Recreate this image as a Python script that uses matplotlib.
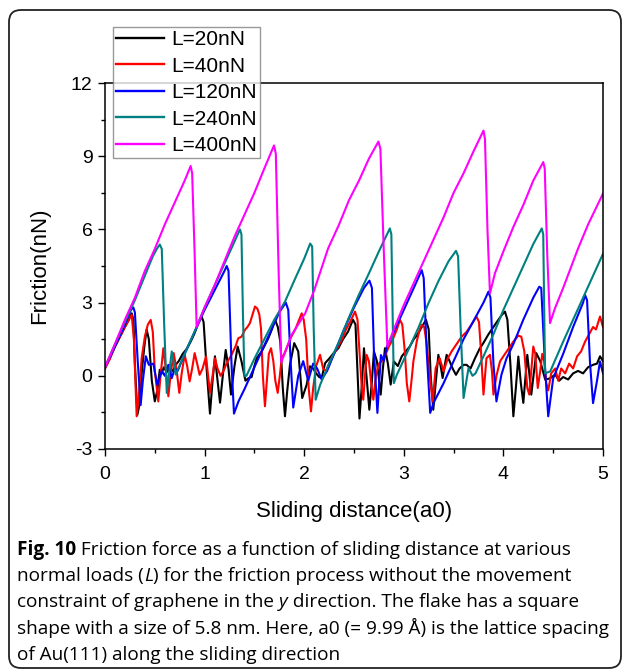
"""Friction force vs sliding distance at several normal loads (Fig. 10)."""

import matplotlib

matplotlib.use("Agg")
import matplotlib.pyplot as plt
from matplotlib.patches import FancyBboxPatch
from matplotlib.ticker import MultipleLocator
from matplotlib.transforms import IdentityTransform

plt.rcParams["font.family"] = ["Liberation Sans", "DejaVu Sans"]
plt.rcParams["axes.unicode_minus"] = False

W, H = 630, 672

# ---- data (x in a0, friction in nN) ----
labels = ["L=20nN", "L=40nN", "L=120nN", "L=240nN", "L=400nN"]
colors = ["#000000", "#ff0000", "#0000ff", "#008080", "#ff00ff"]

x20 = [0.00, 0.05, 0.10, 0.15, 0.20, 0.24, 0.268, 0.285, 0.30, 0.325, 0.345, 0.37, 0.395,
       0.418, 0.44, 0.47, 0.50, 0.525, 0.55, 0.57, 0.59, 0.62, 0.65, 0.68, 0.71, 0.74,
       0.78, 0.82, 0.86, 0.90, 0.94, 0.97, 0.99, 1.02, 1.054, 1.08, 1.104, 1.13, 1.155,
       1.185, 1.212, 1.24, 1.265, 1.30, 1.332, 1.37, 1.41, 1.44, 1.472, 1.50, 1.523,
       1.573, 1.61, 1.64, 1.675, 1.707, 1.735, 1.76, 1.785, 1.807, 1.83, 1.857, 1.90,
       1.94, 1.98, 2.025, 2.058, 2.09, 2.12, 2.15, 2.175, 2.21, 2.25, 2.30, 2.343, 2.39,
       2.44, 2.49, 2.515, 2.535, 2.555, 2.58, 2.60, 2.625, 2.654, 2.68, 2.70, 2.73,
       2.768, 2.79, 2.811, 2.84, 2.868, 2.90, 2.94, 2.98, 3.02, 3.06, 3.10, 3.14, 3.18,
       3.223, 3.25, 3.27, 3.296, 3.32, 3.347, 3.37, 3.39, 3.41, 3.43, 3.46, 3.49, 3.524,
       3.56, 3.60, 3.63, 3.67, 3.715, 3.76, 3.80, 3.85, 3.90, 3.95, 3.985, 4.016, 4.04,
       4.07, 4.10, 4.125, 4.15, 4.175, 4.20, 4.22, 4.24, 4.26, 4.28, 4.305, 4.33, 4.37,
       4.42, 4.47, 4.52, 4.56, 4.60, 4.65, 4.70, 4.75, 4.80, 4.85, 4.90, 4.94, 4.97, 5.00]
f20 = [0.30, 0.75, 1.20, 1.60, 2.00, 2.30, 2.56, 2.30, 0.50, -1.60, -1.20, 0.20, 1.20,
       1.90, 1.50, -0.20, -1.05, -0.60, 0.25, 0.10, 0.35, 0.15, 0.30, 0.20, 0.45, 0.60,
       0.90, 1.10, 1.40, 1.75, 2.20, 2.43, 2.20, 0.30, -1.55, -0.20, 0.80, -0.20, -1.10,
       0.10, 1.06, 0.30, -0.77, 0.40, 1.20, 0.60, -0.20, -0.10, -0.05, 0.40, 0.72,
       1.00, 1.30, 1.54, 1.90, 2.30, 2.00, 1.40, -0.50, -1.66, -0.60, 0.45, 1.34,
       1.00, -0.91, -0.36, 0.39, 0.30, 0.10, -0.05, -0.09, 0.52, 0.70, 0.95, 1.13, 1.50,
       1.81, 2.30, 2.10, 0.20, -1.75, -0.30, 1.13, 0.00, -1.39, -0.20, 1.00, 0.60,
       -0.77, 0.30, 1.13, 0.50, -0.36, 0.59, 0.40, 0.80, 1.00, 1.20, 1.50, 1.70, 2.00,
       2.29, 1.90, 0.00, -1.39, -0.30, 0.86, 0.40, -0.09, 0.40, 0.86, 0.60, 0.30, 0.04,
       0.30, 0.45, 0.45, 0.30, 0.72, 1.10, 1.35, 1.70, 2.00, 2.30, 2.50, 2.63, 2.30,
       0.50, -1.66, -0.50, 0.79, -0.30, -1.11, -0.10, 0.86, 0.10, -0.77, 0.10, 0.93, 0.60,
       -0.16, -0.10, 0.05, -0.20, -0.05, -0.15, 0.10, 0.20, 0.10, 0.35, 0.45, 0.50, 0.80, 0.60]

x40 = [0.00, 0.05, 0.10, 0.15, 0.20, 0.24, 0.268, 0.29, 0.318, 0.34, 0.368, 0.40, 0.43,
       0.459, 0.48, 0.50, 0.535, 0.56, 0.586, 0.61, 0.636, 0.66, 0.69, 0.72, 0.746, 0.77,
       0.80, 0.825, 0.85, 0.875, 0.90, 0.925, 0.95, 0.98, 1.014, 1.035, 1.054, 1.08,
       1.104, 1.13, 1.16, 1.19, 1.22, 1.27, 1.31, 1.338, 1.37, 1.405, 1.43, 1.455, 1.48,
       1.506, 1.53, 1.55, 1.566, 1.585, 1.606, 1.625, 1.645, 1.667, 1.69, 1.71, 1.734,
       1.755, 1.774, 1.80, 1.83, 1.87, 1.91, 1.95, 1.975, 1.995, 2.02, 2.045, 2.068,
       2.09, 2.12, 2.159, 2.19, 2.22, 2.26, 2.30, 2.34, 2.38, 2.42, 2.46, 2.51, 2.535,
       2.555, 2.575, 2.593, 2.61, 2.627, 2.65, 2.67, 2.694, 2.72, 2.75, 2.78, 2.81, 2.85,
       2.89, 2.93, 2.962, 2.985, 3.01, 3.03, 3.055, 3.08, 3.096, 3.13, 3.16, 3.18, 3.205,
       3.23, 3.26, 3.29, 3.32, 3.36, 3.40, 3.44, 3.48, 3.53, 3.58, 3.63, 3.68, 3.73,
       3.755, 3.775, 3.80, 3.83, 3.865, 3.885, 3.90, 3.93, 3.966, 4.00, 4.05, 4.10, 4.15,
       4.18, 4.21, 4.24, 4.26, 4.28, 4.30, 4.32, 4.345, 4.37, 4.39, 4.41, 4.43, 4.45,
       4.48, 4.52, 4.55, 4.58, 4.62, 4.66, 4.70, 4.74, 4.78, 4.82, 4.86, 4.90, 4.93,
       4.97, 5.00]
f40 = [0.30, 0.70, 1.20, 1.60, 2.00, 2.30, 2.50, 1.50, -1.66, -0.80, 0.72, 1.60, 2.10,
       2.29, 1.80, 0.20, -1.05, 0.10, 1.13, 0.30, -0.84, 0.10, 0.93, 0.20, -0.70, 0.10,
       0.86, 0.40, -0.23, 0.30, 0.93, 0.50, 0.04, 0.30, 0.79, 0.00, -0.70, 0.00,
       0.72, 0.30, 0.00, 0.20, 0.50, 0.86, 1.20, 1.54, 1.60, 1.88, 2.00, 2.16, 2.50,
       2.84, 2.75, 2.50, 1.95, 0.00, -1.25, -0.20, 0.90, 1.13, 0.60, -0.20, -0.70,
       0.00, 0.72, 0.90, 1.20, 1.60, 1.90, 2.30, 2.56, 2.30, 1.50, -0.50, -1.46,
       -0.50, 0.40, 0.86, 0.30, 0.20, 0.60, 0.90, 1.20, 1.50, 1.90, 2.20, 2.63, 2.30,
       1.00, -0.30, -0.98, 0.00, 0.86, 0.60, -0.20, -0.98, 0.00, 0.50, 0.60, 0.80, 1.20,
       1.50, 1.90, 2.29, 2.10, 1.00, -0.30, -1.05, -0.10, 0.59, 1.41, 1.90, 2.09, 2.00,
       1.30, 0.00, -1.05, 0.32, 0.72, 0.18, 0.70, 1.00, 1.30, 1.60, 1.80, 2.10, 2.43,
       2.20, 1.00, -0.77, 0.72, 0.86, 0.20, -0.77, 0.00, 0.59, 0.80, 1.10, 1.40, 1.65,
       1.60, 1.00, -0.50, -0.77, 0.20, 1.20, 0.90, -0.50, 0.20, 0.90, 0.60, -0.30, -0.60,
       0.10, 0.30, -0.20, 0.30, 0.10, 0.50, 0.30, 0.80, 1.00, 1.40, 1.70, 2.00, 1.90,
       2.43, 2.00]

x120 = [0.00, 0.10, 0.20, 0.26, 0.285, 0.30, 0.33, 0.358, 0.38, 0.41, 0.44, 0.485, 0.525,
        0.57, 0.60, 0.636, 0.67, 0.70, 0.73, 0.80, 0.90, 1.00, 1.10, 1.20, 1.222, 1.24,
        1.27, 1.295, 1.34, 1.40, 1.45, 1.55, 1.65, 1.75, 1.815, 1.84, 1.865, 1.89, 1.94,
        1.99, 2.04, 2.09, 2.13, 2.175, 2.23, 2.30, 2.40, 2.50, 2.60, 2.655, 2.68, 2.70,
        2.735, 2.77, 2.80, 2.83, 2.90, 3.00, 3.10, 3.18, 3.20, 3.23, 3.265, 3.30, 3.40,
        3.50, 3.60, 3.715, 3.80, 3.85, 3.87, 3.90, 3.93, 3.98, 4.03, 4.10, 4.20, 4.30,
        4.36, 4.38, 4.42, 4.45, 4.50, 4.60, 4.70, 4.80, 4.82, 4.84, 4.87, 4.90, 4.94,
        4.97, 5.00]
f120 = [0.35, 1.20, 2.10, 2.70, 2.80, 2.60, 0.50, -1.20, -0.20, 0.80, 0.45, 0.50, -0.37,
        0.20, 0.00, 0.45, -0.10, 0.30, 0.20, 0.90, 1.80, 2.70, 3.50, 4.30, 4.50, 4.30,
        0.50, -1.55, -1.05, -0.55, -0.10, 0.80, 1.70, 2.60, 3.00, 2.70, 0.50, -1.30, 0.00,
        0.60, -0.20, 0.50, 0.30, -0.15, 0.20, 0.90, 1.90, 2.80, 3.60, 3.90, 3.60, 1.00,
        -1.52, 0.85, 0.60, 1.20, 1.80, 2.70, 3.60, 4.33, 4.00, 1.00, -1.52, -1.10, -0.30,
        0.60, 1.50, 2.36, 3.00, 3.45, 3.20, 0.50, -1.05, 0.04, 0.70, 1.30, 2.30, 3.20,
        3.65, 3.60, 0.20, -1.66, -0.10, 0.90, 2.00, 3.00, 3.31, 3.10, 0.50, -1.12, -0.20,
        0.59, 0.10]

x240 = [0.00, 0.10, 0.20, 0.30, 0.40, 0.48, 0.52, 0.55, 0.57, 0.595, 0.62, 0.67, 0.71,
        0.80, 0.92, 1.00, 1.10, 1.20, 1.30, 1.355, 1.37, 1.385, 1.40, 1.42, 1.50, 1.60,
        1.70, 1.807, 1.90, 2.00, 2.06, 2.08, 2.095, 2.115, 2.16, 2.25, 2.35, 2.45, 2.54,
        2.65, 2.75, 2.86, 2.875, 2.89, 2.90, 2.93, 3.05, 3.15, 3.25, 3.35, 3.45, 3.524,
        3.545, 3.57, 3.60, 3.65, 3.69, 3.72, 3.80, 3.90, 4.00, 4.10, 4.20, 4.30, 4.385,
        4.40, 4.418, 4.47, 4.60, 4.70, 4.80, 4.90, 5.00]
f240 = [0.35, 1.30, 2.20, 3.10, 4.10, 4.90, 5.20, 5.38, 5.20, 2.00, -0.70, 1.00, 0.05,
        0.90, 2.00, 2.80, 3.70, 4.60, 5.50, 6.00, 5.80, 2.50, 0.00, 0.00, 0.70, 1.50,
        2.30, 3.04, 3.90, 4.80, 5.42, 5.30, 2.00, -0.98, -0.37, 0.50, 1.40, 2.40, 3.24,
        4.20, 5.10, 6.04, 5.80, 2.00, -0.30, 0.04, 1.10, 2.00, 3.00, 3.90, 4.70, 5.12,
        4.90, 2.00, -0.91, 0.32, 0.00, 0.10, 0.80, 1.70, 2.70, 3.60, 4.50, 5.40, 6.04,
        5.80, 0.10, 0.18, 1.40, 2.30, 3.20, 4.10, 5.00]

x400 = [0.00, 0.10, 0.20, 0.30, 0.40, 0.50, 0.60, 0.70, 0.80, 0.86, 0.875, 0.90, 0.92,
        1.00, 1.10, 1.20, 1.30, 1.40, 1.50, 1.60, 1.697, 1.715, 1.745, 1.77, 1.874, 2.01,
        2.10, 2.24, 2.35, 2.45, 2.55, 2.65, 2.745, 2.765, 2.80, 2.835, 2.90, 3.00, 3.10,
        3.20, 3.30, 3.40, 3.50, 3.60, 3.70, 3.80, 3.815, 3.84, 3.865, 3.915, 4.00, 4.10,
        4.20, 4.30, 4.40, 4.415, 4.44, 4.468, 4.518, 4.60, 4.75, 4.85, 5.00]
f400 = [0.35, 1.30, 2.30, 3.20, 4.30, 5.20, 6.20, 7.10, 8.00, 8.60, 8.30, 5.00, 2.00,
        2.80, 3.70, 4.70, 5.70, 6.60, 7.50, 8.50, 9.44, 9.10, 4.00, 0.55, 1.68, 2.56,
        3.50, 5.22, 6.20, 7.20, 8.00, 8.90, 9.60, 9.30, 5.00, 1.20, 1.90, 2.90, 3.80,
        4.70, 5.60, 6.50, 7.50, 8.30, 9.20, 10.05, 9.70, 6.00, 3.38, 4.20, 5.10, 6.10,
        7.00, 8.00, 8.76, 8.50, 5.00, 2.16, 2.77, 3.60, 5.22, 6.20, 7.47]

series_x = [x20, x40, x120, x240, x400]
series_f = [f20, f40, f120, f240, f400]

# ---- figure ----
fig = plt.figure(figsize=(W / 100, H / 100), dpi=100)

# rounded frame around the whole panel
frame = FancyBboxPatch((9, H - 668), 612, 658,
                       boxstyle="round,pad=0,rounding_size=12",
                       transform=IdentityTransform(), fill=False,
                       ec="#222222", lw=1.3)
fig.add_artist(frame)

ax = fig.add_axes([105 / W, 1 - 449 / H, 498 / W, 366 / H])
for xs, fs, c, lab in zip(series_x, series_f, colors, labels):
    ax.plot(xs, fs, color=c, lw=1.5, label=lab, solid_joinstyle="round")

ax.set_xlim(0, 5)
ax.set_ylim(-3, 12)
ax.xaxis.set_major_locator(MultipleLocator(1))
ax.xaxis.set_minor_locator(MultipleLocator(0.5))
ax.yaxis.set_major_locator(MultipleLocator(3))
ax.yaxis.set_minor_locator(MultipleLocator(1.5))
ax.tick_params(which="both", direction="out", top=False, right=False,
               labelsize=14, width=1)
ax.tick_params(which="major", length=5, pad=4)
ax.tick_params(axis="x", which="major", pad=7)
ax.tick_params(which="minor", length=3)
for sp in ax.spines.values():
    sp.set_linewidth(1.1)

fig.text(40 / W, 1 - 266 / H, "Friction(nN)", rotation=90, ha="center",
         va="center", fontsize=16)
fig.text(354 / W, 1 - 511 / H, "Sliding distance(a0)", ha="center",
         va="center", fontsize=16)

leg = ax.legend(loc="upper left", bbox_to_anchor=(113 / W, 1 - 27 / H),
                bbox_transform=fig.transFigure, fontsize=15, frameon=True,
                fancybox=False, borderpad=0.15, labelspacing=0.36,
                handlelength=2.3, handletextpad=0.34, borderaxespad=0)
leg.get_frame().set_edgecolor("#808080")
leg.get_frame().set_linewidth(1)
for line in leg.get_lines():
    line.set_linewidth(1.7)

# ---- caption with mixed bold / italic runs ----
cap_font = ["Open Sans", "DejaVu Sans"]
cap_size = 13.7
caption = [
    [("Fig. 10", "bold", "normal"),
     (" Friction force as a function of sliding distance at various", "normal", "normal")],
    [("normal loads (", "normal", "normal"), ("L", "normal", "italic"),
     (") for the friction process without the movement", "normal", "normal")],
    [("constraint of graphene in the ", "normal", "normal"), ("y", "normal", "italic"),
     (" direction. The flake has a square", "normal", "normal")],
    [("shape with a size of 5.8 nm. Here, a0 (= 9.99 Å) is the lattice spacing",
      "normal", "normal")],
    [("of Au(111) along the sliding direction", "normal", "normal")],
]
baselines = [555, 581, 607, 634, 660]

renderer = fig.canvas.get_renderer()


def text_width(s, weight, style):
    # measure with bars on both sides so edge spaces are counted
    t = fig.text(0, 0, "|" + s + "|", fontsize=cap_size, family=cap_font,
                 weight=weight, style=style)
    b = fig.text(0, 0, "||", fontsize=cap_size, family=cap_font,
                 weight=weight, style=style)
    w = t.get_window_extent(renderer).width - b.get_window_extent(renderer).width
    t.remove()
    b.remove()
    return w


for runs, base in zip(caption, baselines):
    x = 17
    for s, weight, style in runs:
        fig.text(x / W, 1 - base / H, s, fontsize=cap_size, family=cap_font,
                 weight=weight, style=style, va="baseline", ha="left")
        x += text_width(s, weight, style)

fig.savefig("out.png", dpi=100)
